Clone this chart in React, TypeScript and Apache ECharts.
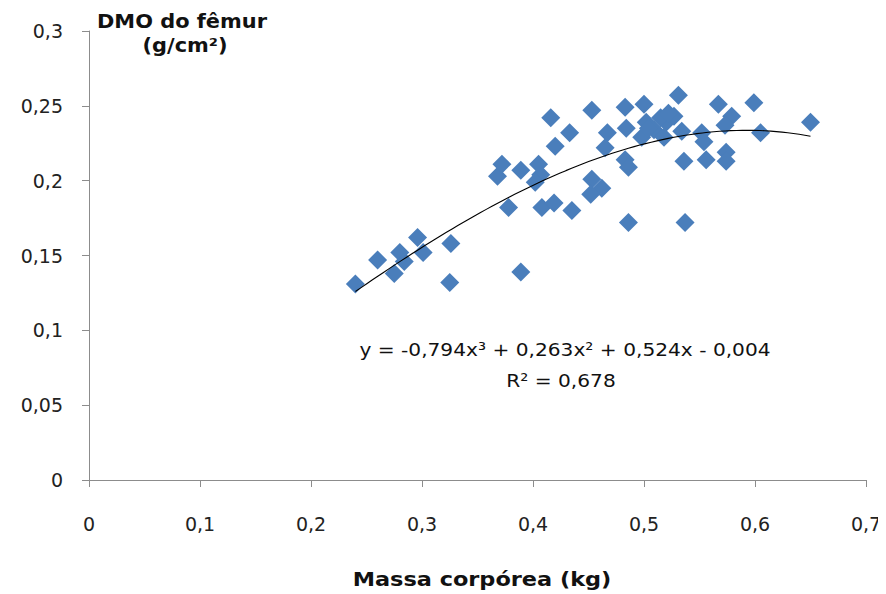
import React, { useEffect, useRef } from "react";
import * as echarts from "echarts";

// Body mass (kg) of each animal
const massaKg = [
  0.24, 0.26, 0.275, 0.28, 0.284, 0.296, 0.301, 0.326, 0.325, 0.368,
  0.372, 0.378, 0.389, 0.389, 0.405, 0.407, 0.402, 0.408, 0.416, 0.42,
  0.419, 0.435, 0.433, 0.453, 0.453, 0.462, 0.452, 0.467, 0.465, 0.483,
  0.5, 0.484, 0.486, 0.483, 0.486, 0.498, 0.509, 0.52, 0.527, 0.518,
  0.534, 0.502, 0.504, 0.515, 0.531, 0.522, 0.536, 0.537, 0.552, 0.554,
  0.556, 0.567, 0.579, 0.573, 0.574, 0.574, 0.599, 0.605, 0.65,
];

// Femur bone mineral density (g/cm²) of each animal
const dmoFemur = [
  0.131, 0.147, 0.138, 0.152, 0.146, 0.162, 0.152, 0.158, 0.132, 0.203,
  0.211, 0.182, 0.139, 0.207, 0.211, 0.204, 0.199, 0.182, 0.242, 0.223,
  0.185, 0.18, 0.232, 0.247, 0.201, 0.195, 0.191, 0.232, 0.222, 0.249,
  0.251, 0.235, 0.172, 0.214, 0.209, 0.229, 0.234, 0.239, 0.243, 0.229,
  0.233, 0.239, 0.235, 0.242, 0.257, 0.245, 0.213, 0.172, 0.232, 0.226,
  0.214, 0.251, 0.243, 0.237, 0.219, 0.213, 0.252, 0.232, 0.239,
];

// Polynomial trend line coefficients (x³, x², x, constant) and R²
const trendCoef = [-0.794, 0.263, 0.524, -0.004];
const trendR2 = 0.678;
const trendRange = [0.24, 0.65];

const xTicks = ["0", "0,1", "0,2", "0,3", "0,4", "0,5", "0,6", "0,7"];
const yTicks = ["0", "0,05", "0,1", "0,15", "0,2", "0,25", "0,3"];

const fmt = (v: number, d: number) => v.toFixed(d).replace(".", ",");

export default function App() {
  const ref = useRef<HTMLDivElement>(null);

  useEffect(() => {
    if (!ref.current) return;
    const chart = echarts.init(ref.current, undefined, { renderer: "svg" });

    const points = massaKg.map((x, i) => [x, dmoFemur[i]]);
    const poly = (x: number) =>
      trendCoef[0] * x * x * x + trendCoef[1] * x * x + trendCoef[2] * x + trendCoef[3];
    const trend: number[][] = [];
    const steps = 80;
    for (let i = 0; i <= steps; i++) {
      const x = trendRange[0] + ((trendRange[1] - trendRange[0]) * i) / steps;
      trend.push([x, poly(x)]);
    }

    const font = "'DejaVu Sans', sans-serif";
    const sign = (v: number) => (v < 0 ? "- " : "+ ");
    const eqText =
      "y = " +
      fmt(trendCoef[0], 3) +
      "x³ " +
      sign(trendCoef[1]) +
      fmt(Math.abs(trendCoef[1]), 3) +
      "x² " +
      sign(trendCoef[2]) +
      fmt(Math.abs(trendCoef[2]), 3) +
      "x " +
      sign(trendCoef[3]) +
      fmt(Math.abs(trendCoef[3]), 3);

    // Text centred on (x, y), optionally stretched horizontally
    const centered = (x: number, y: number, text: string, f: string, sx = 1) => ({
      type: "text",
      x,
      y,
      scaleX: sx,
      style: { text, font: f, fill: "#111", textAlign: "center", textVerticalAlign: "middle" },
    });

    chart.setOption({
      animation: false,
      backgroundColor: "#ffffff",
      grid: { left: 81, right: 20, top: 23, bottom: 114, containLabel: false },
      xAxis: {
        type: "value",
        min: 0,
        max: 0.7,
        interval: 0.1,
        axisLine: { show: true, lineStyle: { color: "#8c8c8c", width: 1 } },
        axisTick: { show: true, inside: false, length: 7, lineStyle: { color: "#8c8c8c" } },
        splitLine: { show: false },
        axisLabel: {
          margin: 34,
          color: "#222",
          fontSize: 19,
          fontFamily: font,
          formatter: (v: number) => xTicks[Math.round(v * 10)],
        },
      },
      yAxis: {
        type: "value",
        min: 0,
        max: 0.3,
        interval: 0.05,
        axisLine: { show: true, lineStyle: { color: "#8c8c8c", width: 1 } },
        axisTick: { show: true, inside: false, length: 7, lineStyle: { color: "#8c8c8c" } },
        splitLine: { show: false },
        axisLabel: {
          margin: 26,
          color: "#222",
          fontSize: 19,
          fontFamily: font,
          formatter: (v: number) => yTicks[Math.round(v * 20)],
        },
      },
      graphic: [
        centered(174, 13, "DMO do fêmur", `bold 19px ${font}`, 1.1),
        centered(177, 37, "(g/cm²)", `bold 19px ${font}`, 1.1),
        centered(474, 572, "Massa corpórea (kg)", `bold 19px ${font}`, 1.18),
        centered(557, 342, eqText, `18px ${font}`, 1.12),
        centered(553, 373, "R² = " + fmt(trendR2, 3), `18px ${font}`, 1.12),
      ],
      series: [
        {
          type: "scatter",
          data: points,
          symbol: "diamond",
          symbolSize: 19,
          itemStyle: { color: "#4a7ebb", opacity: 1 },
          z: 2,
        },
        {
          type: "line",
          data: trend,
          showSymbol: false,
          smooth: false,
          lineStyle: { color: "#000", width: 1.1 },
          z: 3,
        },
      ],
    });

    return () => chart.dispose();
  }, []);

  return <div ref={ref} style={{ width: 878, height: 586 }} />;
}
